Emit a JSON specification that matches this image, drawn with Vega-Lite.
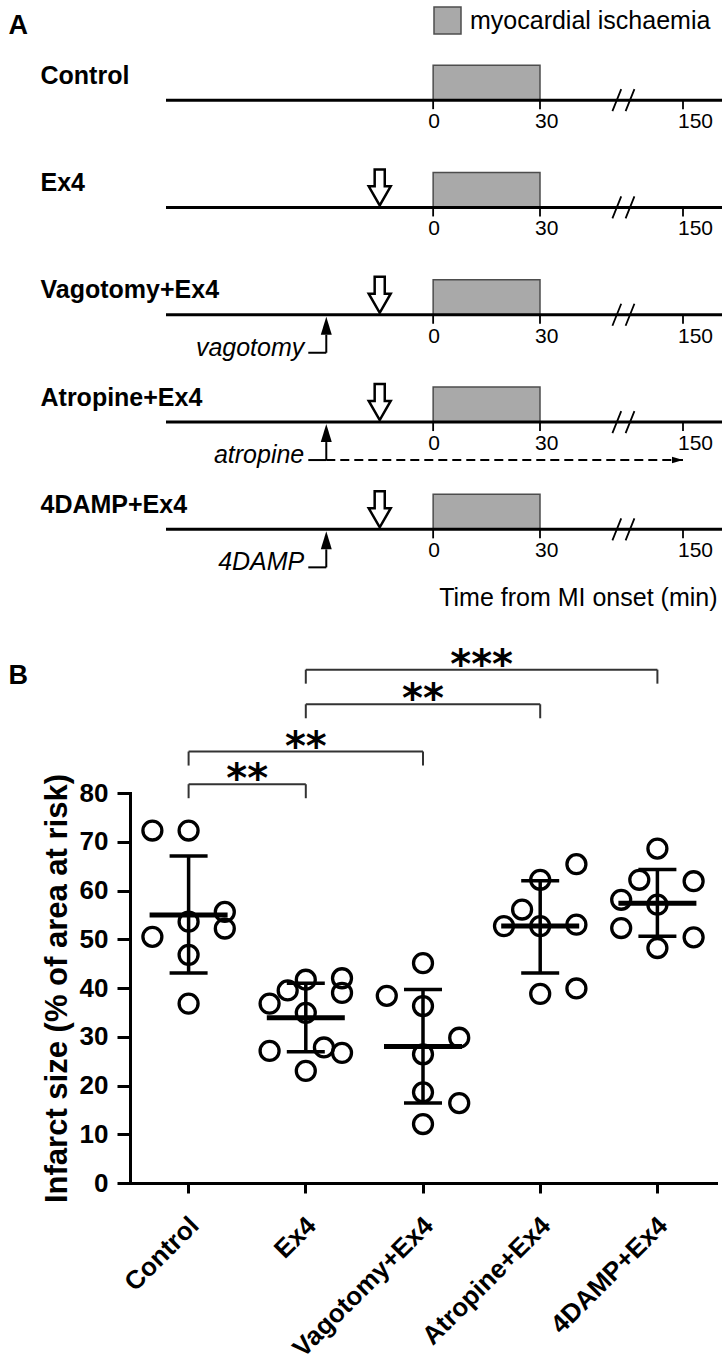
{
  "$schema": "https://vega.github.io/schema/vega-lite/v6.json",
  "padding": {"left": 8, "top": 5.5, "right": 0, "bottom": 0},
  "autosize": {"type": "pad"},
  "background": "white",
  "bounds": "flush",
  "spacing": 209.5,
  "config": {"view": {"stroke": null}, "axis": {"grid": false}, "font": "Liberation Sans"},
  "datasets": {
    "timeline": [
      {"group": "Control", "start": -75, "end": 161},
      {"group": "Ex4", "start": -75, "end": 161},
      {"group": "Vagotomy+Ex4", "start": -75, "end": 161},
      {"group": "Atropine+Ex4", "start": -75, "end": 161},
      {"group": "4DAMP+Ex4", "start": -75, "end": 161}
    ],
    "ischaemia": [
      {"group": "Control", "onset": 0, "end": 30, "phase": "myocardial ischaemia"},
      {"group": "Ex4", "onset": 0, "end": 30, "phase": "myocardial ischaemia"},
      {"group": "Vagotomy+Ex4", "onset": 0, "end": 30, "phase": "myocardial ischaemia"},
      {"group": "Atropine+Ex4", "onset": 0, "end": 30, "phase": "myocardial ischaemia"},
      {"group": "4DAMP+Ex4", "onset": 0, "end": 30, "phase": "myocardial ischaemia"}
    ],
    "timeticks": [
      {"group": "Control", "t": 0}, {"group": "Control", "t": 30}, {"group": "Control", "t": 150},
      {"group": "Ex4", "t": 0}, {"group": "Ex4", "t": 30}, {"group": "Ex4", "t": 150},
      {"group": "Vagotomy+Ex4", "t": 0}, {"group": "Vagotomy+Ex4", "t": 30}, {"group": "Vagotomy+Ex4", "t": 150},
      {"group": "Atropine+Ex4", "t": 0}, {"group": "Atropine+Ex4", "t": 30}, {"group": "Atropine+Ex4", "t": 150},
      {"group": "4DAMP+Ex4", "t": 0}, {"group": "4DAMP+Ex4", "t": 30}, {"group": "4DAMP+Ex4", "t": 150}
    ],
    "breaks": [
      {"group": "Control", "t": 100},
      {"group": "Ex4", "t": 100},
      {"group": "Vagotomy+Ex4", "t": 100},
      {"group": "Atropine+Ex4", "t": 100},
      {"group": "4DAMP+Ex4", "t": 100}
    ],
    "ex4": [
      {"group": "Ex4", "t": -15},
      {"group": "Vagotomy+Ex4", "t": -15},
      {"group": "Atropine+Ex4", "t": -15},
      {"group": "4DAMP+Ex4", "t": -15}
    ],
    "pretreat": [
      {"group": "Vagotomy+Ex4", "t": -30, "label": "vagotomy"},
      {"group": "Atropine+Ex4", "t": -30, "label": "atropine"},
      {"group": "4DAMP+Ex4", "t": -30, "label": "4DAMP"}
    ],
    "infusion": [
      {"group": "Atropine+Ex4", "start": -30, "end": 150}
    ],
    "dots": [
      {"group": "Control", "value": 72.3, "lane": "L2"},
      {"group": "Control", "value": 72.3, "lane": "C"},
      {"group": "Control", "value": 55.6, "lane": "R2"},
      {"group": "Control", "value": 53.6, "lane": "C"},
      {"group": "Control", "value": 52.2, "lane": "R2"},
      {"group": "Control", "value": 50.5, "lane": "L2"},
      {"group": "Control", "value": 46.8, "lane": "C"},
      {"group": "Control", "value": 36.8, "lane": "C"},
      {"group": "Ex4", "value": 36.8, "lane": "L2"},
      {"group": "Ex4", "value": 39.5, "lane": "L1"},
      {"group": "Ex4", "value": 41.7, "lane": "C"},
      {"group": "Ex4", "value": 42.0, "lane": "R2"},
      {"group": "Ex4", "value": 39.0, "lane": "R2"},
      {"group": "Ex4", "value": 34.9, "lane": "C"},
      {"group": "Ex4", "value": 27.1, "lane": "L2"},
      {"group": "Ex4", "value": 27.8, "lane": "R1"},
      {"group": "Ex4", "value": 26.7, "lane": "R2"},
      {"group": "Ex4", "value": 23.0, "lane": "C"},
      {"group": "Vagotomy+Ex4", "value": 45.1, "lane": "C"},
      {"group": "Vagotomy+Ex4", "value": 38.4, "lane": "L2"},
      {"group": "Vagotomy+Ex4", "value": 36.3, "lane": "C"},
      {"group": "Vagotomy+Ex4", "value": 29.8, "lane": "R2"},
      {"group": "Vagotomy+Ex4", "value": 26.4, "lane": "C"},
      {"group": "Vagotomy+Ex4", "value": 18.6, "lane": "C"},
      {"group": "Vagotomy+Ex4", "value": 16.4, "lane": "R2"},
      {"group": "Vagotomy+Ex4", "value": 12.1, "lane": "C"},
      {"group": "Atropine+Ex4", "value": 65.4, "lane": "R2"},
      {"group": "Atropine+Ex4", "value": 62.2, "lane": "C"},
      {"group": "Atropine+Ex4", "value": 56.1, "lane": "L1"},
      {"group": "Atropine+Ex4", "value": 52.7, "lane": "L2"},
      {"group": "Atropine+Ex4", "value": 52.7, "lane": "C"},
      {"group": "Atropine+Ex4", "value": 53.0, "lane": "R2"},
      {"group": "Atropine+Ex4", "value": 38.8, "lane": "C"},
      {"group": "Atropine+Ex4", "value": 39.9, "lane": "R2"},
      {"group": "4DAMP+Ex4", "value": 68.6, "lane": "C"},
      {"group": "4DAMP+Ex4", "value": 62.2, "lane": "L1"},
      {"group": "4DAMP+Ex4", "value": 61.9, "lane": "R2"},
      {"group": "4DAMP+Ex4", "value": 58.1, "lane": "L2"},
      {"group": "4DAMP+Ex4", "value": 57.1, "lane": "C"},
      {"group": "4DAMP+Ex4", "value": 52.3, "lane": "L2"},
      {"group": "4DAMP+Ex4", "value": 50.4, "lane": "R2"},
      {"group": "4DAMP+Ex4", "value": 48.2, "lane": "C"}
    ],
    "summary": [
      {"group": "Control", "mean": 55.0, "lo": 43.1, "hi": 67.1},
      {"group": "Ex4", "mean": 33.9, "lo": 26.9, "hi": 41.0},
      {"group": "Vagotomy+Ex4", "mean": 28.0, "lo": 16.4, "hi": 39.7},
      {"group": "Atropine+Ex4", "mean": 52.7, "lo": 43.1, "hi": 62.0},
      {"group": "4DAMP+Ex4", "mean": 57.4, "lo": 50.6, "hi": 64.3}
    ],
    "brackets": [
      {"from": "Control", "to": "Ex4", "a": 0, "b": 1, "m": 0.5, "y": 81.8, "stars": "**"},
      {"from": "Control", "to": "Vagotomy+Ex4", "a": 0, "b": 2, "m": 1, "y": 88.5, "stars": "**"},
      {"from": "Ex4", "to": "Atropine+Ex4", "a": 1, "b": 3, "m": 2, "y": 98.2, "stars": "**"},
      {"from": "Ex4", "to": "4DAMP+Ex4", "a": 1, "b": 4, "m": 2.5, "y": 105.3, "stars": "***"}
    ]
  },
  "vconcat": [
    {
      "width": 592,
      "height": 536.5,
      "layer": [
        {
          "data": {"name": "ischaemia"},
          "mark": {"type": "bar", "height": 35, "yOffset": -17.5, "stroke": "#4d4d4d", "strokeWidth": 1.5},
          "encoding": {
            "x": {"field": "onset", "type": "quantitative", "title": "Time from MI onset (min)",
              "scale": {"domain": [-75, 30, 150, 161], "range": [36, 410, 553, 592], "nice": false, "zero": false},
              "axis": {"labels": false, "ticks": false, "domain": false, "title": "Time from MI onset (min)",
                "titleFont": "Liberation Sans", "titleFontSize": 25, "titleFontWeight": "normal", "titleColor": "black",
                "titleX": 587, "titleY": 14, "titleAlign": "right", "titleBaseline": "middle", "titleAnchor": "end"}},
            "x2": {"field": "end"},
            "y": {"field": "group", "type": "nominal", "title": "A",
              "scale": {"type": "point", "domain": ["Control", "Ex4", "Vagotomy+Ex4", "Atropine+Ex4", "4DAMP+Ex4"], "padding": 0.5},
              "axis": {"title": "A", "titleX": -122, "titleY": -21, "titleAngle": 0, "titleAlign": "left", "titleBaseline": "middle",
                "titleFont": "Liberation Sans", "titleFontSize": 27, "titleFontWeight": "bold", "titleColor": "black",
                "domain": false, "ticks": false, "tickSize": 0,
                "labelFont": "Liberation Sans", "labelFontSize": 25, "labelFontWeight": "bold", "labelColor": "black",
                "labelAlign": "left", "labelBaseline": "alphabetic", "labelPadding": 90, "labelOffset": -17}},
            "fill": {"field": "phase", "type": "nominal", "scale": {"range": ["#a9a9a9"]},
              "legend": {"title": null, "orient": "none", "legendX": 303, "legendY": -40.5, "symbolType": "square", "symbolSize": 729,
                "symbolStrokeColor": "#4d4d4d", "symbolStrokeWidth": 1.5, "symbolOpacity": 1,
                "labelFont": "Liberation Sans", "labelFontSize": 25, "labelColor": "black", "labelOffset": 8, "labelLimit": 400, "padding": 0}}
          }
        },
        {
          "data": {"name": "timeline"},
          "mark": {"type": "rule", "strokeWidth": 3, "color": "black"},
          "encoding": {
            "x": {"field": "start", "type": "quantitative", "title": "Time from MI onset (min)", "scale": {"domain": [-75, 30, 150, 161], "range": [36, 410, 553, 592], "nice": false, "zero": false}},
            "x2": {"field": "end"},
            "y": {"field": "group", "type": "nominal", "title": "A", "scale": {"type": "point", "domain": ["Control", "Ex4", "Vagotomy+Ex4", "Atropine+Ex4", "4DAMP+Ex4"], "padding": 0.5}}
          }
        },
        {
          "data": {"name": "timeticks"},
          "mark": {"type": "tick", "orient": "vertical", "size": 9, "thickness": 1.8, "yOffset": 4.5, "color": "black", "opacity": 1},
          "encoding": {
            "x": {"field": "t", "type": "quantitative", "title": "Time from MI onset (min)"},
            "y": {"field": "group", "type": "nominal", "title": "A"}
          }
        },
        {
          "data": {"name": "timeticks"},
          "mark": {"type": "text", "align": "left", "baseline": "alphabetic", "dx": -5, "dy": 28, "fontSize": 21, "font": "Liberation Sans", "color": "black"},
          "encoding": {
            "x": {"field": "t", "type": "quantitative", "title": "Time from MI onset (min)"},
            "y": {"field": "group", "type": "nominal", "title": "A"},
            "text": {"field": "t", "type": "quantitative", "format": "d"}
          }
        },
        {
          "data": {"name": "breaks"},
          "mark": {"type": "point", "shape": "M-1,1L-0.2,-1M0.2,1L1,-1", "size": 484, "filled": false, "stroke": "black", "strokeWidth": 1.8, "opacity": 1},
          "encoding": {
            "x": {"field": "t", "type": "quantitative", "title": "Time from MI onset (min)"},
            "y": {"field": "group", "type": "nominal", "title": "A"}
          }
        },
        {
          "data": {"name": "ex4"},
          "mark": {"type": "point", "shape": "M-0.28,-1L0.28,-1L0.28,-0.06L0.61,-0.06L0,1L-0.61,-0.06L-0.28,-0.06Z", "size": 1296, "filled": true, "fill": "white", "stroke": "black", "strokeWidth": 2.5, "yOffset": -20, "opacity": 1},
          "encoding": {
            "x": {"field": "t", "type": "quantitative", "title": "Time from MI onset (min)"},
            "y": {"field": "group", "type": "nominal", "title": "A"}
          }
        },
        {
          "data": {"name": "pretreat"},
          "mark": {"type": "point", "shape": "M0,-1L0.61,1L-0.61,1Z", "size": 324, "filled": true, "fill": "black", "strokeWidth": 0, "yOffset": 11, "opacity": 1},
          "encoding": {
            "x": {"field": "t", "type": "quantitative", "title": "Time from MI onset (min)"},
            "y": {"field": "group", "type": "nominal", "title": "A"}
          }
        },
        {
          "data": {"name": "pretreat"},
          "mark": {"type": "tick", "orient": "vertical", "size": 18, "thickness": 2, "yOffset": 29, "color": "black", "opacity": 1},
          "encoding": {
            "x": {"field": "t", "type": "quantitative", "title": "Time from MI onset (min)"},
            "y": {"field": "group", "type": "nominal", "title": "A"}
          }
        },
        {
          "data": {"name": "pretreat"},
          "mark": {"type": "tick", "orient": "horizontal", "size": 18, "thickness": 2, "xOffset": -9, "yOffset": 38, "color": "black", "opacity": 1},
          "encoding": {
            "x": {"field": "t", "type": "quantitative", "title": "Time from MI onset (min)"},
            "y": {"field": "group", "type": "nominal", "title": "A"}
          }
        },
        {
          "data": {"name": "pretreat"},
          "mark": {"type": "text", "align": "right", "baseline": "alphabetic", "dx": -22, "dy": 41, "fontSize": 25, "fontStyle": "italic", "font": "Liberation Sans", "color": "black"},
          "encoding": {
            "x": {"field": "t", "type": "quantitative", "title": "Time from MI onset (min)"},
            "y": {"field": "group", "type": "nominal", "title": "A"},
            "text": {"field": "label", "type": "nominal"}
          }
        },
        {
          "data": {"name": "infusion"},
          "mark": {"type": "rule", "strokeWidth": 2, "strokeDash": [9, 5], "yOffset": 38, "color": "black"},
          "encoding": {
            "x": {"field": "start", "type": "quantitative", "title": "Time from MI onset (min)"},
            "x2": {"field": "end"},
            "y": {"field": "group", "type": "nominal", "title": "A"}
          }
        },
        {
          "data": {"name": "infusion"},
          "mark": {"type": "point", "shape": "M1,0L-1,-0.6L-1,0.6Z", "size": 121, "filled": true, "fill": "black", "strokeWidth": 0, "xOffset": -5.5, "yOffset": 38, "opacity": 1},
          "encoding": {
            "x": {"field": "end", "type": "quantitative", "title": "Time from MI onset (min)"},
            "y": {"field": "group", "type": "nominal", "title": "A"}
          }
        }
      ]
    },
    {
      "width": 586,
      "height": 390,
      "resolve": {"scale": {"x": "independent"}},
      "layer": [
        {
          "layer": [
            {
              "data": {"name": "summary"},
              "mark": {"type": "rule", "strokeWidth": 3.5, "color": "black"},
              "encoding": {
                "x": {"field": "group", "type": "nominal", "title": "B",
                  "scale": {"domain": ["Control", "Ex4", "Vagotomy+Ex4", "Atropine+Ex4", "4DAMP+Ex4"], "paddingInner": 0.382, "paddingOuter": 0.191},
                  "axis": {"titleX": -122, "titleY": -508, "titleAngle": 0, "titleAlign": "left", "titleBaseline": "middle",
                    "titleFont": "Liberation Sans", "titleFontSize": 27, "titleFontWeight": "bold", "titleColor": "black",
                    "labelAngle": -45, "labelAlign": "right", "labelBaseline": "middle", "labelLimit": 400,
                    "labelFont": "Liberation Sans", "labelFontSize": 26, "labelFontWeight": "bold", "labelColor": "black", "labelPadding": 28, "labelOffset": 6,
                    "tickSize": 10, "tickWidth": 3, "tickColor": "black", "domainWidth": 3, "domainColor": "black", "domainCap": "square"}},
                "y": {"field": "lo", "type": "quantitative", "title": "Infarct size (% of area at risk)",
                  "scale": {"domain": [0, 80], "nice": false},
                  "axis": {"values": [0, 10, 20, 30, 40, 50, 60, 70, 80],
                    "titleFont": "Liberation Sans", "titleFontSize": 31, "titleFontWeight": "bold", "titleColor": "black", "titlePadding": 6,
                    "labelFont": "Liberation Sans", "labelFontSize": 26, "labelFontWeight": "bold", "labelColor": "black", "labelPadding": 9,
                    "tickSize": 13, "tickWidth": 3, "tickColor": "black", "domainWidth": 3, "domainColor": "black", "domainCap": "square"}},
                "y2": {"field": "hi"}
              }
            },
            {
              "data": {"name": "summary"},
              "mark": {"type": "tick", "orient": "horizontal", "size": 38, "thickness": 3.5, "color": "black", "opacity": 1},
              "encoding": {
                "x": {"field": "group", "type": "nominal", "title": "B", "scale": {"domain": ["Control", "Ex4", "Vagotomy+Ex4", "Atropine+Ex4", "4DAMP+Ex4"], "paddingInner": 0.382, "paddingOuter": 0.191}},
                "y": {"field": "lo", "type": "quantitative", "title": "Infarct size (% of area at risk)", "scale": {"domain": [0, 80], "nice": false}}
              }
            },
            {
              "data": {"name": "summary"},
              "mark": {"type": "tick", "orient": "horizontal", "size": 38, "thickness": 3.5, "color": "black", "opacity": 1},
              "encoding": {
                "x": {"field": "group", "type": "nominal", "title": "B", "scale": {"domain": ["Control", "Ex4", "Vagotomy+Ex4", "Atropine+Ex4", "4DAMP+Ex4"], "paddingInner": 0.382, "paddingOuter": 0.191}},
                "y": {"field": "hi", "type": "quantitative", "title": "Infarct size (% of area at risk)", "scale": {"domain": [0, 80], "nice": false}}
              }
            },
            {
              "data": {"name": "summary"},
              "mark": {"type": "tick", "orient": "horizontal", "size": 78, "thickness": 5, "color": "black", "opacity": 1},
              "encoding": {
                "x": {"field": "group", "type": "nominal", "title": "B", "scale": {"domain": ["Control", "Ex4", "Vagotomy+Ex4", "Atropine+Ex4", "4DAMP+Ex4"], "paddingInner": 0.382, "paddingOuter": 0.191}},
                "y": {"field": "mean", "type": "quantitative", "title": "Infarct size (% of area at risk)", "scale": {"domain": [0, 80], "nice": false}}
              }
            },
            {
              "data": {"name": "dots"},
              "mark": {"type": "point", "shape": "circle", "size": 360, "filled": false, "stroke": "black", "strokeWidth": 3.3, "opacity": 1},
              "encoding": {
                "x": {"field": "group", "type": "nominal", "title": "B", "scale": {"domain": ["Control", "Ex4", "Vagotomy+Ex4", "Atropine+Ex4", "4DAMP+Ex4"], "paddingInner": 0.382, "paddingOuter": 0.191}},
                "xOffset": {"field": "lane", "type": "nominal", "scale": {"domain": ["L2", "L1", "C", "R1", "R2"], "paddingInner": 0, "paddingOuter": 0}},
                "y": {"field": "value", "type": "quantitative", "title": "Infarct size (% of area at risk)", "scale": {"domain": [0, 80], "nice": false}}
              }
            }
          ]
        },
        {
          "data": {"name": "brackets"},
          "layer": [
            {
              "mark": {"type": "rule", "strokeWidth": 2, "color": "#333333"},
              "encoding": {
                "x": {"field": "a", "type": "quantitative", "scale": {"domain": [-0.5, 4.5], "nice": false, "zero": false}, "axis": null},
                "x2": {"field": "b"},
                "y": {"field": "y", "type": "quantitative", "title": "Infarct size (% of area at risk)", "scale": {"domain": [0, 80], "nice": false}}
              }
            },
            {
              "mark": {"type": "tick", "orient": "vertical", "size": 14, "thickness": 2, "yOffset": 7, "color": "#333333", "opacity": 1},
              "encoding": {
                "x": {"field": "a", "type": "quantitative", "scale": {"domain": [-0.5, 4.5], "nice": false, "zero": false}, "axis": null},
                "y": {"field": "y", "type": "quantitative", "title": "Infarct size (% of area at risk)", "scale": {"domain": [0, 80], "nice": false}}
              }
            },
            {
              "mark": {"type": "tick", "orient": "vertical", "size": 14, "thickness": 2, "yOffset": 7, "color": "#333333", "opacity": 1},
              "encoding": {
                "x": {"field": "b", "type": "quantitative", "scale": {"domain": [-0.5, 4.5], "nice": false, "zero": false}, "axis": null},
                "y": {"field": "y", "type": "quantitative", "title": "Infarct size (% of area at risk)", "scale": {"domain": [0, 80], "nice": false}}
              }
            },
            {
              "mark": {"type": "text", "align": "center", "baseline": "alphabetic", "dy": 8, "font": "DejaVu Sans", "fontWeight": "bold", "fontSize": 40, "color": "black"},
              "encoding": {
                "x": {"field": "m", "type": "quantitative", "scale": {"domain": [-0.5, 4.5], "nice": false, "zero": false}, "axis": null},
                "y": {"field": "y", "type": "quantitative", "title": "Infarct size (% of area at risk)", "scale": {"domain": [0, 80], "nice": false}},
                "text": {"field": "stars", "type": "nominal"}
              }
            }
          ]
        }
      ]
    }
  ]
}
